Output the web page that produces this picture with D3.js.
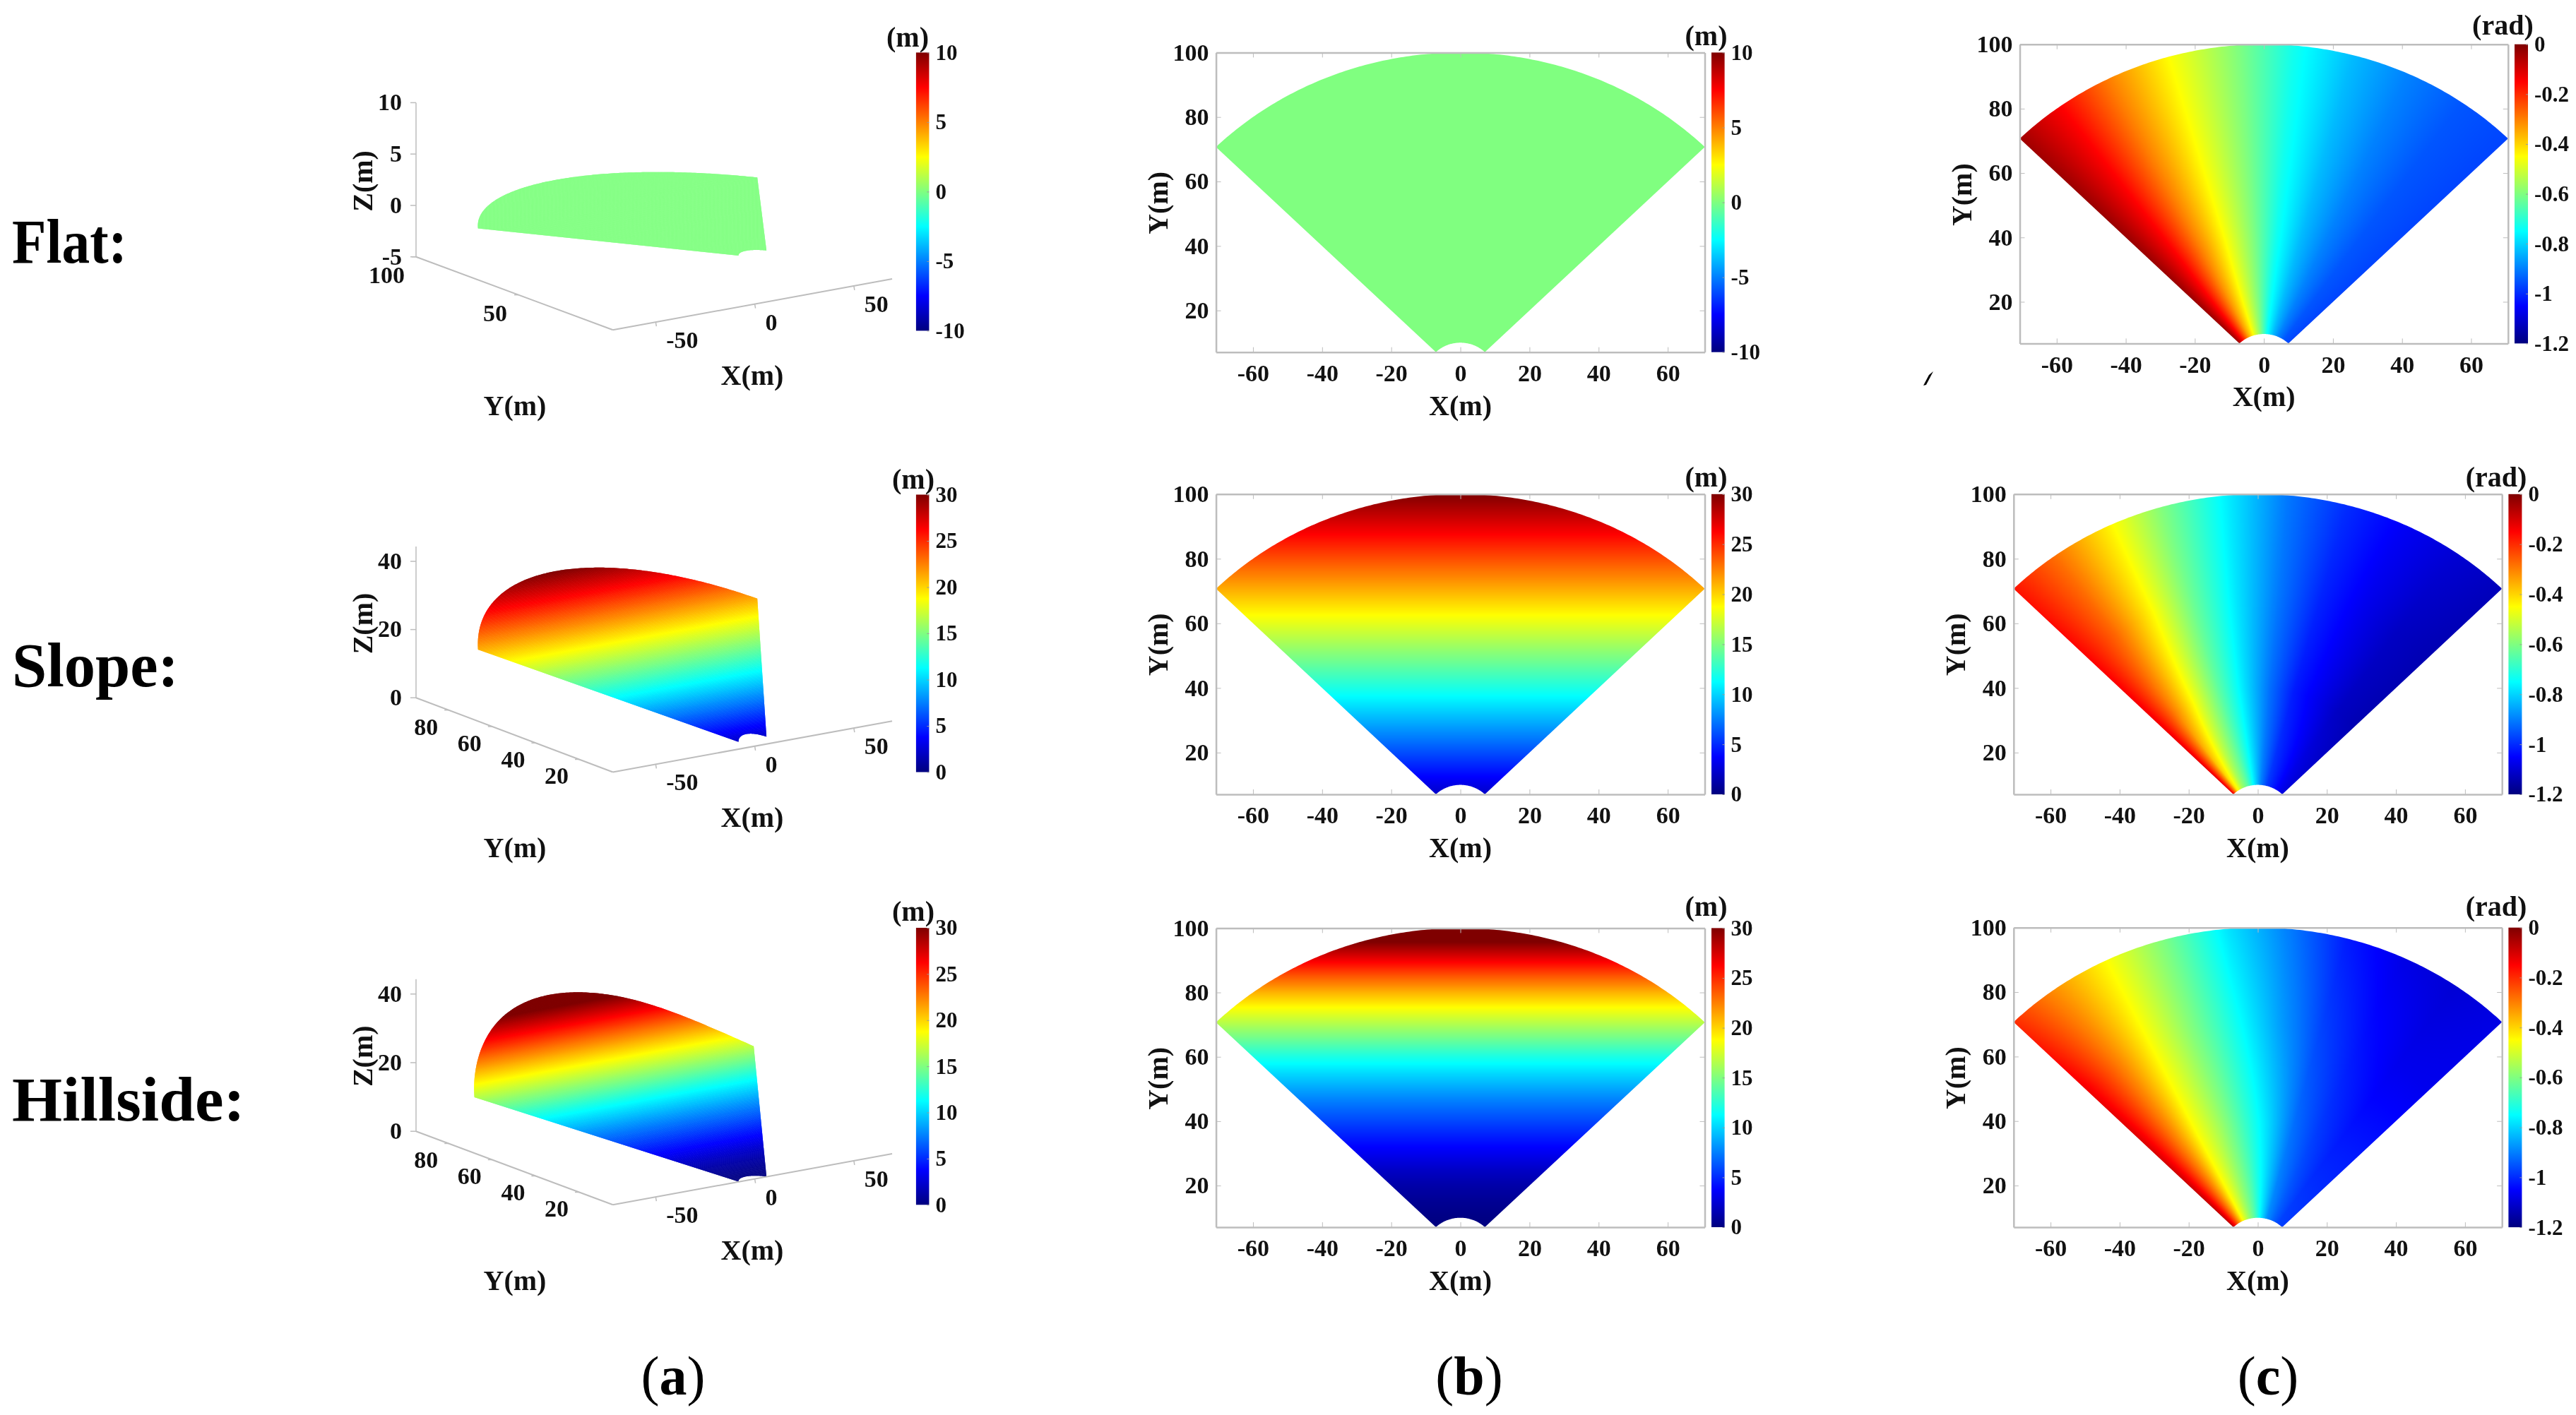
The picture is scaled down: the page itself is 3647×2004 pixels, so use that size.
<!DOCTYPE html>
<meta charset="utf-8">
<style>
body { margin: 0; background: #fff; }
canvas, svg { position: absolute; left: 0; top: 0; }
text { font-family: "Liberation Serif", serif; fill: #111; }
.tick text, .lab3d { font-size: 34px; font-weight: bold; }
.bar .tick text { font-size: 31px; }
.axlabel { font-size: 40px; font-weight: bold; }
.rowlabel { font-size: 88px; font-weight: bold; fill: #000; }
.panellabel { font-size: 78px; fill: #000; }
.axis path, .axis line, .ax3d { fill: none; stroke: #bdbdbd; }
.axis path { stroke-width: 2.5; }
.bar path { display: none; }
.bar line { stroke: #9a9a9a; }
</style>
<body>
<canvas id="heat" width="3647" height="2004"></canvas>
<script src="https://d3js.org/d3.v7.min.js"></script>
<script>
// --------------------------- values ---------------------------
var rowNames = ["Flat:", "Slope:", "Hillside:"];
var panelNames = ["a", "b", "c"];

var xTicks = [-60, -40, -20, 0, 20, 40, 60];
var yTicks = [20, 40, 60, 80, 100];
var pitchTicks = [0, -0.2, -0.4, -0.6, -0.8, -1, -1.2];
var heightTicksFlat = [10, 5, 0, -5, -10];
var heightTicksHill = [30, 25, 20, 15, 10, 5, 0];

var jetStops = [0, 0.125, 0.375, 0.625, 0.875, 1];
var jetColors = ["#00007f", "#0000ff", "#00ffff", "#ffff00", "#ff0000", "#7f0000"];

// ground height (m) along Y
var groundY = [7, 10, 15, 20, 25, 30, 35, 40, 45, 50, 55, 60, 65, 70, 75, 80, 85, 90, 95, 100];
var flatZ = [0, 0, 0, 0, 0, 0, 0, 0, 0, 0, 0, 0, 0, 0, 0, 0, 0, 0, 0, 0];
var slopeZ = [2.1, 3, 4.5, 6, 7.5, 9, 10.5, 12, 13.5, 15, 16.5, 18, 19.5, 21, 22.5, 24, 25.5, 27, 28.5, 30];
var hillsideZ = [0.05, 0.15, 0.6, 1.2, 2.1, 3.3, 4.5, 5.8, 7.1, 8.6, 10.2, 12, 14.2, 16.4, 18.6, 21, 23.7, 26.6, 29.6, 32.5];

// pitch (rad) by azimuth (deg, columns) and range (m, rows)
var pitchAzimuth = [-45, -36, -26, -16, -5, 5, 15, 25, 35, 45];
var pitchRange = [10, 40, 70, 100];
var flatPitch = [
  [-0.03, -0.17, -0.34, -0.47, -0.60, -0.74, -0.83, -0.90, -0.95, -0.97],
  [-0.03, -0.15, -0.31, -0.45, -0.59, -0.73, -0.83, -0.90, -0.95, -0.97],
  [-0.03, -0.15, -0.31, -0.45, -0.59, -0.73, -0.83, -0.90, -0.95, -0.97],
  [-0.04, -0.15, -0.31, -0.45, -0.59, -0.73, -0.83, -0.90, -0.95, -0.97]
];
var slopePitch = [
  [-0.10, -0.42, -0.56, -0.65, -0.78, -0.90, -0.98, -1.02, -1.06, -1.09],
  [-0.13, -0.31, -0.48, -0.64, -0.79, -0.92, -1.02, -1.07, -1.12, -1.14],
  [-0.15, -0.27, -0.44, -0.62, -0.78, -0.91, -1.01, -1.07, -1.12, -1.14],
  [-0.17, -0.28, -0.43, -0.60, -0.77, -0.91, -1.00, -1.06, -1.10, -1.13]
];
var hillsidePitch = [
  [-0.06, -0.24, -0.44, -0.55, -0.65, -0.77, -0.88, -0.93, -0.97, -0.98],
  [-0.10, -0.27, -0.45, -0.56, -0.69, -0.80, -0.92, -0.98, -1.02, -1.02],
  [-0.13, -0.28, -0.45, -0.59, -0.735, -0.86, -0.97, -1.03, -1.07, -1.07],
  [-0.20, -0.32, -0.45, -0.60, -0.78, -0.90, -1.02, -1.08, -1.10, -1.08]
];

// ----------------------------- layout -----------------------------
var width = 3647, height = 2004;
var xExtent = [-70.7, 70.7], yExtent = [7.07, 100];

var svg = d3.select("body").append("svg").attr("width", width).attr("height", height);
var ctx = document.getElementById("heat").getContext("2d");

var jetScale = d3.scaleLinear().domain(jetStops).range(jetColors).clamp(true);
var jetLut = d3.range(1025).map(function(i) { return d3.rgb(jetScale(i / 1024)); });

svg.append("defs").append("linearGradient")
    .attr("id", "jet").attr("x1", 0).attr("y1", 1).attr("x2", 0).attr("y2", 0)
  .selectAll("stop").data(jetStops).enter().append("stop")
    .attr("offset", function(d) { return d; })
    .attr("stop-color", function(d, i) { return jetColors[i]; });

// boundary of the sector, ring from r=10 to r=100 and +-45 deg
function sectorOutline() {
  var pts = [];
  d3.range(-45, 45.01, 0.5).forEach(function(a) {
    pts.push([100 * Math.sin(a * Math.PI / 180), 100 * Math.cos(a * Math.PI / 180)]);
  });
  d3.range(45, -45.01, -1).forEach(function(a) {
    pts.push([10 * Math.sin(a * Math.PI / 180), 10 * Math.cos(a * Math.PI / 180)]);
  });
  return pts;
}

function pitchField(table) {
  var az = d3.scaleLinear().domain(pitchAzimuth).range(d3.range(pitchAzimuth.length)).clamp(true);
  var rg = d3.scaleLinear().domain(pitchRange).range(d3.range(pitchRange.length)).clamp(true);
  return function(x, y) {
    var a = az(Math.atan2(x, y) * 180 / Math.PI), r = rg(Math.hypot(x, y));
    var i = Math.min(Math.floor(a), pitchAzimuth.length - 2), j = Math.min(Math.floor(r), pitchRange.length - 2);
    var u = a - i, v = r - j;
    return (table[j][i] * (1 - u) + table[j][i + 1] * u) * (1 - v) +
           (table[j + 1][i] * (1 - u) + table[j + 1][i + 1] * u) * v;
  };
}

function paintField(p, field, domain) {
  var color = d3.scaleLinear().domain(domain).range([0, 1024]).clamp(true);
  var x = p.x, y = p.y;
  var x0 = Math.floor(p.left), y0 = Math.floor(p.top);
  var w = Math.ceil(p.right) - x0 + 1, h = Math.ceil(p.bottom) - y0 + 1;
  var off = document.createElement("canvas");
  off.width = w; off.height = h;
  var octx = off.getContext("2d"), img = octx.createImageData(w, h);
  for (var j = 0; j < h; j++) {
    for (var i = 0; i < w; i++) {
      var c = jetLut[Math.round(color(field(x.invert(x0 + i + 0.5), y.invert(y0 + j + 0.5))))];
      var k = 4 * (j * w + i);
      img.data[k] = c.r; img.data[k + 1] = c.g; img.data[k + 2] = c.b; img.data[k + 3] = 255;
    }
  }
  octx.putImageData(img, 0, 0);
  ctx.save();
  ctx.beginPath();
  d3.line().x(function(d) { return x(d[0]); }).y(function(d) { return y(d[1]); }).context(ctx)(sectorOutline());
  ctx.closePath();
  ctx.clip();
  ctx.drawImage(off, x0, y0);
  ctx.restore();
}

function drawBar(b) {
  var s = d3.scaleLinear().domain(b.domain).range([b.bottom, b.top]);
  var g = svg.append("g").attr("class", "bar");
  g.append("rect").attr("x", b.x0).attr("y", b.top).attr("width", b.x1 - b.x0)
      .attr("height", b.bottom - b.top).attr("fill", "url(#jet)");
  g.append("g").attr("class", "axis").attr("transform", "translate(" + b.x1 + ",0)")
      .call(d3.axisRight(s).tickValues(b.ticks).tickSize(-3).tickPadding(9).tickFormat(String));
  svg.append("text").attr("class", "axlabel").attr("text-anchor", "middle")
      .attr("x", b.unitX).attr("y", b.unitY).text(b.unit);
}

function draw2d(p, field, domain) {
  p.x = d3.scaleLinear().domain(xExtent).range([p.left, p.right]);
  p.y = d3.scaleLinear().domain(yExtent).range([p.bottom, p.top]);
  paintField(p, field, domain);

  var inner = 7, fmt = String;
  svg.append("g").attr("class", "axis").attr("transform", "translate(0," + p.bottom + ")")
      .call(d3.axisBottom(p.x).tickValues(xTicks).tickSizeInner(-inner).tickSizeOuter(0).tickPadding(17).tickFormat(fmt));
  svg.append("g").attr("class", "axis").attr("transform", "translate(0," + p.top + ")")
      .call(d3.axisTop(p.x).tickValues(xTicks).tickSizeInner(-inner).tickSizeOuter(0).tickFormat(""));
  svg.append("g").attr("class", "axis").attr("transform", "translate(" + p.left + ",0)")
      .call(d3.axisLeft(p.y).tickValues(yTicks).tickSizeInner(-inner).tickSizeOuter(0).tickPadding(10).tickFormat(fmt));
  svg.append("g").attr("class", "axis").attr("transform", "translate(" + p.right + ",0)")
      .call(d3.axisRight(p.y).tickValues(yTicks).tickSizeInner(-inner).tickSizeOuter(0).tickFormat(""));

  svg.append("text").attr("class", "axlabel").attr("text-anchor", "middle")
      .attr("x", p.x(0)).attr("y", p.bottom + 89).text("X(m)");
  svg.append("text").attr("class", "axlabel").attr("text-anchor", "middle")
      .attr("transform", "translate(" + (p.left - 69) + "," + (p.top + 213) + ") rotate(-90)").text("Y(m)");
}

function draw3d(r, zProfile) {
  var cx = 867.7, by = r.baseY;               // corner of the floor
  var ex = [2.796, -0.511], ey = [r.eyX, -1.115];
  var zPx = d3.scaleLinear().domain(r.zDomain).range([r.zBottom, r.zTop]);
  var zOf = d3.scaleLinear().domain(groundY).range(zProfile);
  function project(x, y, z) {
    return [cx + (x + 70.7) * ex[0] + (y - 7.07) * ey[0],
            by + (x + 70.7) * ex[1] + (y - 7.07) * ey[1] - (r.zBottom - zPx(z))];
  }

  // surface: clip to the outline, then strips of constant Y
  ctx.save();
  ctx.beginPath();
  sectorOutline().forEach(function(d, i) {
    var q = project(d[0], d[1], zOf(d[1]));
    if (i) ctx.lineTo(q[0], q[1]); else ctx.moveTo(q[0], q[1]);
  });
  ctx.closePath();
  ctx.clip();
  var colorOf = d3.scaleLinear().domain(r.colorDomain).range([0, 1024]).clamp(true);
  d3.range(7, 100.01, 0.2).forEach(function(y) {
    var c = jetLut[Math.round(colorOf(zOf(y)))];
    var a = project(-75, y, zOf(y)), b = project(75, y, zOf(y));
    var d = project(75, y + 0.4, zOf(Math.min(y + 0.4, 100))), e = project(-75, y + 0.4, zOf(Math.min(y + 0.4, 100)));
    ctx.fillStyle = c.formatRgb();
    ctx.beginPath();
    ctx.moveTo(a[0], a[1]); ctx.lineTo(b[0], b[1]); ctx.lineTo(d[0], d[1]); ctx.lineTo(e[0], e[1]);
    ctx.closePath();
    ctx.fill();
  });
  ctx.restore();

  // axes
  var g = svg.append("g");
  var zx = 589, floorY = r.zBottom;
  var xAxisX = d3.scaleLinear().domain([-71.6, 69.3]).range([cx, 1263]);
  var xAxisY = d3.scaleLinear().domain([-71.6, 69.3]).range([by, by - 72.3]);
  var yAxisX = d3.scaleLinear().domain(r.yAxisDomain).range([cx, zx]);
  var yAxisY = d3.scaleLinear().domain(r.yAxisDomain).range([by, floorY]);

  function seg(x1, y1, x2, y2, w) {
    g.append("line").attr("class", "ax3d").attr("stroke-width", w)
        .attr("x1", x1).attr("y1", y1).attr("x2", x2).attr("y2", y2);
  }
  seg(zx, r.zAxisTop, zx, floorY, 1.5);
  seg(zx, floorY, cx, by, 2);
  seg(cx, by, 1263, by - 72.3, 2);

  r.zTicks.forEach(function(z) {
    seg(zx - 8, zPx(z), zx, zPx(z), 1.5);
    g.append("text").attr("class", "lab3d").attr("text-anchor", "end")
        .attr("x", zx - 20).attr("y", zPx(z)).attr("dy", "0.32em").text(z);
  });
  r.yTicks.forEach(function(y) {
    seg(yAxisX(y) - 6, yAxisY(y), yAxisX(y), yAxisY(y), 1.5);
    g.append("text").attr("class", "lab3d").attr("text-anchor", "end")
        .attr("x", yAxisX(y) - r.yLabDx).attr("y", yAxisY(y) + r.yLabDy).text(y);
  });
  [-50, 0, 50].forEach(function(x) {
    seg(xAxisX(x), xAxisY(x), xAxisX(x) + 1, xAxisY(x) + 6, 1.5);
    g.append("text").attr("class", "lab3d")
        .attr("x", xAxisX(x) + 15).attr("y", xAxisY(x) + 37).text(x);
  });

  var off = by - 467.3;
  svg.append("text").attr("class", "axlabel").attr("text-anchor", "middle")
      .attr("x", 1065).attr("y", 545 + off).text("X(m)");
  svg.append("text").attr("class", "axlabel").attr("text-anchor", "middle")
      .attr("x", 729).attr("y", 587.5 + off).text("Y(m)");
  svg.append("text").attr("class", "axlabel").attr("text-anchor", "middle")
      .attr("transform", "translate(526.5," + r.zLabelY + ") rotate(-90)").text("Z(m)");
}

// ----------------------------- column (a) -----------------------------
draw3d({ baseY: 467.3, eyX: -3.0, zDomain: [-5, 10], zBottom: 363.7, zTop: 145.4, zAxisTop: 145.4, colorDomain: [-10, 10],
         zTicks: [-5, 0, 5, 10], yTicks: [50, 100], yAxisDomain: [3.9, 100], yLabDx: 16, yLabDy: 37, zLabelY: 256.4 }, flatZ);
draw3d({ baseY: 1093.5, eyX: -3.0, zDomain: [0, 40], zBottom: 988.2, zTop: 795, zAxisTop: 774, colorDomain: [0, 30],
         zTicks: [0, 20, 40], yTicks: [20, 40, 60, 80], yAxisDomain: [4.5, 95], yLabDx: 15, yLabDy: 35, zLabelY: 883 }, slopeZ);
draw3d({ baseY: 1706.3, eyX: -3.08, zDomain: [0, 40], zBottom: 1602.2, zTop: 1407.8, zAxisTop: 1386.7, colorDomain: [0, 30],
         zTicks: [0, 20, 40], yTicks: [20, 40, 60, 80], yAxisDomain: [4.5, 95], yLabDx: 15, yLabDy: 35, zLabelY: 1495.8 }, hillsideZ);

drawBar({ x0: 1296.9, x1: 1315.4, top: 74.4, bottom: 468.4, domain: [-10, 10], ticks: heightTicksFlat, unit: "(m)", unitX: 1285, unitY: 66 });
drawBar({ x0: 1296.9, x1: 1315.4, top: 700.5, bottom: 1093.5, domain: [0, 30], ticks: heightTicksHill, unit: "(m)", unitX: 1293, unitY: 692 });
drawBar({ x0: 1296.9, x1: 1315.4, top: 1314, bottom: 1706.3, domain: [0, 30], ticks: heightTicksHill, unit: "(m)", unitX: 1293, unitY: 1304 });

// ----------------------------- column (b) -----------------------------
var heightFrames = [
  { left: 1721.6, right: 2413.5, top: 74.4, bottom: 498.7, z: flatZ, domain: [-10, 10], ticks: heightTicksFlat, unitY: 64 },
  { left: 1721.6, right: 2413.5, top: 699.8, bottom: 1125, z: slopeZ, domain: [0, 30], ticks: heightTicksHill, unitY: 689 },
  { left: 1721.6, right: 2413.5, top: 1314.4, bottom: 1738, z: hillsideZ, domain: [0, 30], ticks: heightTicksHill, unitY: 1297 }
];
heightFrames.forEach(function(p) {
  var zOf = d3.scaleLinear().domain(groundY).range(p.z).clamp(true);
  draw2d(p, function(x, y) { return zOf(y); }, p.domain);
  drawBar({ x0: 2423, x1: 2441.6, top: p.top, bottom: p.bottom, domain: p.domain, ticks: p.ticks, unit: "(m)", unitX: 2415.5, unitY: p.unitY });
});

// ----------------------------- column (c) -----------------------------
var pitchFrames = [
  { left: 2859.5, right: 3550.8, top: 62.7, bottom: 486.4, table: flatPitch, bar: 3560, unitX: 3543.4, unitY: 49 },
  { left: 2850.8, right: 3542.2, top: 699.8, bottom: 1125, table: slopePitch, bar: 3551.4, unitX: 3534, unitY: 689 },
  { left: 2850.8, right: 3542.2, top: 1313.7, bottom: 1738.1, table: hillsidePitch, bar: 3551.4, unitX: 3534, unitY: 1297 }
];
pitchFrames.forEach(function(p) {
  draw2d(p, pitchField(p.table), [-1.2, 0]);
  drawBar({ x0: p.bar, x1: p.bar + 19, top: p.top, bottom: p.bottom, domain: [-1.2, 0], ticks: pitchTicks, unit: "(rad)", unitX: p.unitX, unitY: p.unitY });
});

// ----------------------------- labels -----------------------------
var rowBaselines = [372, 972, 1587];
var rowWidths = [163, 236, 330];
svg.selectAll(".rowlabel").data(rowNames).enter().append("text")
    .attr("class", "rowlabel").attr("x", 17)
    .attr("y", function(d, i) { return rowBaselines[i]; })
    .attr("textLength", function(d, i) { return rowWidths[i]; })
    .attr("lengthAdjust", "spacingAndGlyphs")
    .text(function(d) { return d; });

var panelCenters = [953, 2080, 3211];
var panelText = svg.selectAll(".panellabel").data(panelNames).enter().append("text")
    .attr("class", "panellabel").attr("text-anchor", "middle")
    .attr("x", function(d, i) { return panelCenters[i]; }).attr("y", 1975);
panelText.append("tspan").text("(");
panelText.append("tspan").style("font-weight", "bold").text(function(d) { return d; });
panelText.append("tspan").text(")");

// stray mark left of the top right panel
svg.append("path").attr("d", "M2737,526 L2731,531 L2723,546 L2727,545 Z").attr("fill", "#000");
</script>
</body>
